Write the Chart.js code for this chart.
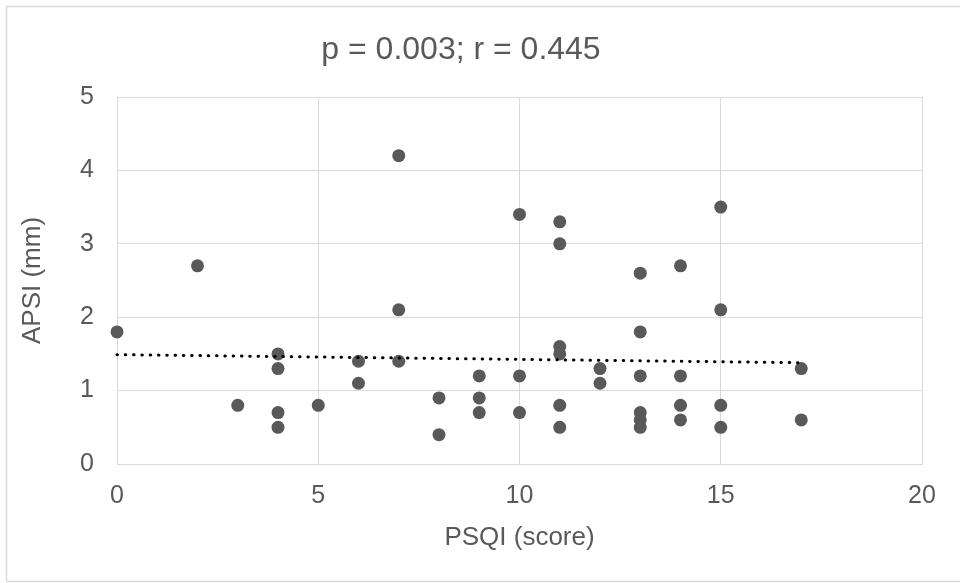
<!DOCTYPE html>
<html>
<head>
<meta charset="utf-8">
<script src="https://cdn.jsdelivr.net/npm/chart.js@4"></script>
<style>
  html, body { margin: 0; padding: 0; background: #ffffff; }
  #wrap { position: relative; width: 960px; height: 583px; }
</style>
</head>
<body>
<div id="wrap"><canvas id="c" width="960" height="583"></canvas></div>
<script>
// ---- data ----
const psqi = [0, 2, 3, 4, 4, 4, 4, 5, 6, 6, 7, 7, 7, 8, 8, 9, 9, 9, 10, 10, 10,
              11, 11, 11, 11, 11, 11, 12, 12, 13, 13, 13, 13, 13, 13,
              14, 14, 14, 14, 15, 15, 15, 15, 17, 17];
const apsi = [1.8, 2.7, 0.8, 1.5, 1.3, 0.7, 0.5, 0.8, 1.4, 1.1, 4.2, 2.1, 1.4, 0.9, 0.4, 1.2, 0.9, 0.7, 3.4, 1.2, 0.7,
              3.3, 3.0, 1.6, 1.5, 0.8, 0.5, 1.3, 1.1, 2.6, 1.8, 1.2, 0.7, 0.6, 0.5,
              2.7, 1.2, 0.8, 0.6, 3.5, 2.1, 0.8, 0.5, 1.3, 0.6];
const trendX = [0, 17];
const trendY = [1.49, 1.38];
const chartTitle = 'p = 0.003; r = 0.445';
const xTitle = 'PSQI (score)';
const yTitle = 'APSI (mm)';

const points = psqi.map((x, i) => ({ x: x, y: apsi[i] }));
const trend = trendX.map((x, i) => ({ x: x, y: trendY[i] }));

const FONT = "'Liberation Sans', Arial, sans-serif";
const TEXT = '#595959';
const GRID = '#d9d9d9';

const frame = {
  id: 'frame',
  beforeDraw(chart) {
    const ctx = chart.ctx;
    ctx.save();
    ctx.fillStyle = '#ffffff';
    ctx.fillRect(0, 0, chart.width, chart.height);
    ctx.strokeStyle = GRID;
    ctx.lineWidth = 1.5;
    ctx.beginPath();
    ctx.moveTo(970, 6.5);
    ctx.lineTo(6.5, 6.5);
    ctx.lineTo(6.5, 581.5);
    ctx.lineTo(970, 581.5);
    ctx.stroke();
    ctx.restore();
  }
};

new Chart(document.getElementById('c'), {
  type: 'scatter',
  data: {
    datasets: [
      {
        type: 'line',
        label: 'Linear trend',
        data: trend,
        order: 0,
        borderColor: '#000000',
        borderWidth: 3,
        borderDash: [0.5, 7.8],
        borderCapStyle: 'round',
        pointRadius: 0,
        fill: false,
        showLine: true,
        clip: false
      },
      {
        label: 'APSI',
        data: points,
        order: 1,
        clip: false,
        backgroundColor: '#595959',
        borderColor: '#595959',
        borderWidth: 0,
        pointRadius: 6.5,
        pointHoverRadius: 6.5
      }
    ]
  },
  options: {
    responsive: false,
    animation: false,
    devicePixelRatio: 1,
    layout: { padding: { left: 0, right: 38, top: 0, bottom: 0 } },
    plugins: {
      legend: { display: false },
      tooltip: { enabled: false },
      title: {
        display: true,
        text: chartTitle,
        color: TEXT,
        font: { family: FONT, size: 32, weight: 'normal', lineHeight: 1.2 },
        padding: { top: 31, bottom: 27.6 }
      }
    },
    scales: {
      x: {
        type: 'linear',
        min: 0,
        max: 20,
        afterFit(scale) { scale.height = 119; },
        ticks: {
          stepSize: 5,
          color: TEXT,
          padding: 17,
          font: { family: FONT, size: 25 },
          maxRotation: 0
        },
        grid: { color: GRID, lineWidth: 1, drawTicks: false },
        border: { color: GRID, width: 1 },
        title: {
          display: true,
          text: xTitle,
          color: TEXT,
          font: { family: FONT, size: 26, lineHeight: 1.2 },
          padding: { top: 0, bottom: 30 }
        }
      },
      y: {
        type: 'linear',
        min: 0,
        max: 5,
        afterFit(scale) { scale.width = 117; },
        ticks: {
          stepSize: 1,
          color: TEXT,
          padding: 23,
          font: { family: FONT, size: 25 }
        },
        grid: { color: GRID, lineWidth: 1, drawTicks: false },
        border: { color: GRID, width: 1 },
        title: {
          display: true,
          text: yTitle,
          color: TEXT,
          font: { family: FONT, size: 26, lineHeight: 1.2 },
          padding: { top: 17, bottom: 0 }
        }
      }
    }
  },
  plugins: [frame]
});
</script>
</body>
</html>
